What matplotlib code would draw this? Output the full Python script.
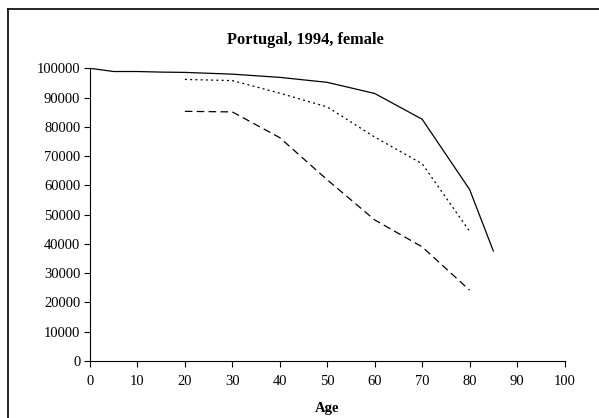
import matplotlib
import matplotlib.pyplot as plt
from matplotlib.lines import Line2D

matplotlib.rc('font', family='Liberation Serif', size=10.5)

# survival curves
age_solid = [0, 5, 10, 15, 20, 30, 40, 50, 60, 70, 80, 85]
solid = [100000, 98900, 98900, 98700, 98600, 98000, 96900, 95200, 91400, 82600, 58600, 37600]

age_dotted = [20, 30, 40, 50, 60, 70, 80]
dotted = [96200, 95800, 91500, 86800, 76500, 67400, 44300]

age_dashed = [20, 30, 40, 50, 60, 70, 80]
dashed = [85300, 85100, 76300, 61900, 48200, 39000, 24200]

xticks = list(range(0, 101, 10))
yticks = list(range(0, 100001, 10000))

fig = plt.figure(figsize=(5.99, 4.18), dpi=100)
ax = fig.add_axes([90 / 599, 1 - 361 / 418, 474.5 / 599, 292.7 / 418])

ax.plot(age_solid, solid, color='black', lw=0.9)
ax.plot(age_dotted, dotted, color='black', lw=0.9, dashes=(1.6, 2.6))
ax.plot(age_dashed, dashed, color='black', lw=0.9, dashes=(6, 3.5))

ax.set_xlim(0, 100)
ax.set_ylim(0, 100000)
ax.set_xticks(xticks)
ax.set_yticks(yticks)
ax.tick_params(direction='out', length=4, width=0.8, colors='black')
ax.tick_params(axis='y', pad=3)
ax.tick_params(axis='x', pad=6)
ax.spines['top'].set_visible(False)
ax.spines['right'].set_visible(False)
for s in ('left', 'bottom'):
    ax.spines[s].set_linewidth(0.8)

ax.set_xlabel('Age', fontweight='bold', labelpad=10)
fig.text(305 / 599, 1 - 40 / 418, 'Portugal, 1994, female', ha='center', va='center',
         fontweight='bold', fontsize=11.8)

# outer chart frame (only top and left edges fall inside the image)
fig.add_artist(Line2D([8 / 599, 8 / 599], [0, 1 - 9 / 418], color='black', lw=1.2,
                      transform=fig.transFigure))
fig.add_artist(Line2D([8 / 599, 1], [1 - 9 / 418, 1 - 9 / 418], color='black', lw=1.2,
                      transform=fig.transFigure))

fig.savefig('out.png', dpi=100)
